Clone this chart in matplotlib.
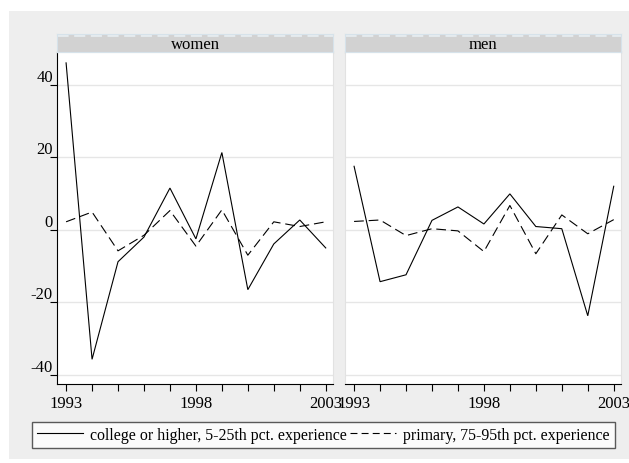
import matplotlib
matplotlib.use("Agg")
import matplotlib.pyplot as plt
from matplotlib.patches import Rectangle
from matplotlib.lines import Line2D

plt.rcParams['font.family'] = ['Liberation Serif', 'DejaVu Serif']
plt.rcParams['font.size'] = 12
plt.rcParams['lines.scale_dashes'] = False
plt.rcParams['axes.unicode_minus'] = False

years = list(range(1993, 2004))
panels = ["women", "men"]
college = {
    "women": [46, -35.7, -8.8, -2, 11.5, -2.5, 21.3, -16.5, -3.9, 2.7, -5],
    "men": [17.5, -14.3, -12.4, 2.6, 6.3, 1.6, 9.9, 0.9, 0.3, -23.7, 12],
}
primary = {
    "women": [2.2, 4.9, -5.8, -1.5, 5.3, -4.5, 5.5, -7, 2.2, 0.9, 2.2],
    "men": [2.3, 2.7, -1.6, 0.3, -0.3, -6, 6.7, -6.6, 4.1, -1.1, 2.8],
}
yticks = [-40, -20, 0, 20, 40]
xticks = [1993, 1998, 2003]
legend_labels = ["college or higher, 5-25th pct. experience",
                 "primary, 75-95th pct. experience"]

W, H = 629, 464
fig = plt.figure(figsize=(W / 100, H / 100), dpi=100)
fig.patch.set_facecolor("white")


def box(x0, y0, x1, y1):
    # pixel box (top-left origin) -> figure fraction rect
    return [x0 / W, 1 - y1 / H, (x1 - x0) / W, (y1 - y0) / H]


# outer gray graph region
fig.add_artist(Rectangle((9 / W, 1 - 460 / H), (W - 9) / W, 448 / H,
                         transform=fig.transFigure, facecolor="#EEEEEE",
                         edgecolor="none", zorder=0))

dash = (0, (7, 3.5))
panel_x = {"women": (57, 333), "men": (345, 621)}

for name in panels:
    x0, x1 = panel_x[name]
    ax = fig.add_axes(box(x0, 53, x1, 385))
    ax.set_facecolor("white")
    ax.plot(years, college[name], color="black", lw=0.8, solid_joinstyle="miter")
    ax.plot(years, primary[name], color="black", lw=0.8, linestyle=dash)
    ax.set_xlim(1992.65, 2003.28)
    ax.set_ylim(-42.5, 49)
    ax.set_yticks(yticks)
    ax.set_xticks(years)
    ax.set_xticklabels([str(y) if y in xticks else "" for y in years])
    ax.tick_params(axis="x", direction="out", length=5, width=0.8, pad=3)
    ax.tick_params(axis="y", direction="out", length=5, width=0.8, pad=-2)
    ax.grid(axis="y", color="#E6E6E6", lw=1)
    ax.set_axisbelow(True)
    for s in ["top", "right"]:
        ax.spines[s].set_color("#E2E2E2")
    ax.spines["bottom"].set_linewidth(0.8)
    if name == "women":
        ax.spines["left"].set_linewidth(0.8)
        for lab in ax.get_yticklabels():
            lab.set_verticalalignment("bottom")
    else:
        ax.spines["left"].set_color("#E2E2E2")
        ax.tick_params(axis="y", left=False, labelleft=False)

    # strip title
    sax = fig.add_axes(box(x0, 35, x1, 53))
    sax.set_facecolor("#D2D2D2")
    sax.set_xticks([])
    sax.set_yticks([])
    for s in sax.spines.values():
        s.set_color("#D6E2EA")
    sax.text(0.5, 0.42, name, ha="center", va="center", transform=sax.transAxes)
    sax.add_line(Line2D([0, 1], [0.93, 0.93], transform=sax.transAxes,
                        color="#E6ECF0", lw=2, linestyle=(0, (8, 4))))

handles = [Line2D([], [], color="black", lw=0.8),
           Line2D([], [], color="black", lw=0.8, linestyle=(0, (5, 3)))]
leg = fig.legend(handles, legend_labels, ncol=2, loc="center left",
                 bbox_to_anchor=(32 / W, 1 - 436 / H), frameon=True,
                 fancybox=False, handlelength=2.9, handletextpad=0.45,
                 columnspacing=0.2, borderpad=0.32, borderaxespad=0,
                 fontsize=11.4)
leg.get_frame().set_edgecolor("#333333")
leg.get_frame().set_linewidth(1)

fig.savefig("out.png", dpi=100, facecolor="white")
